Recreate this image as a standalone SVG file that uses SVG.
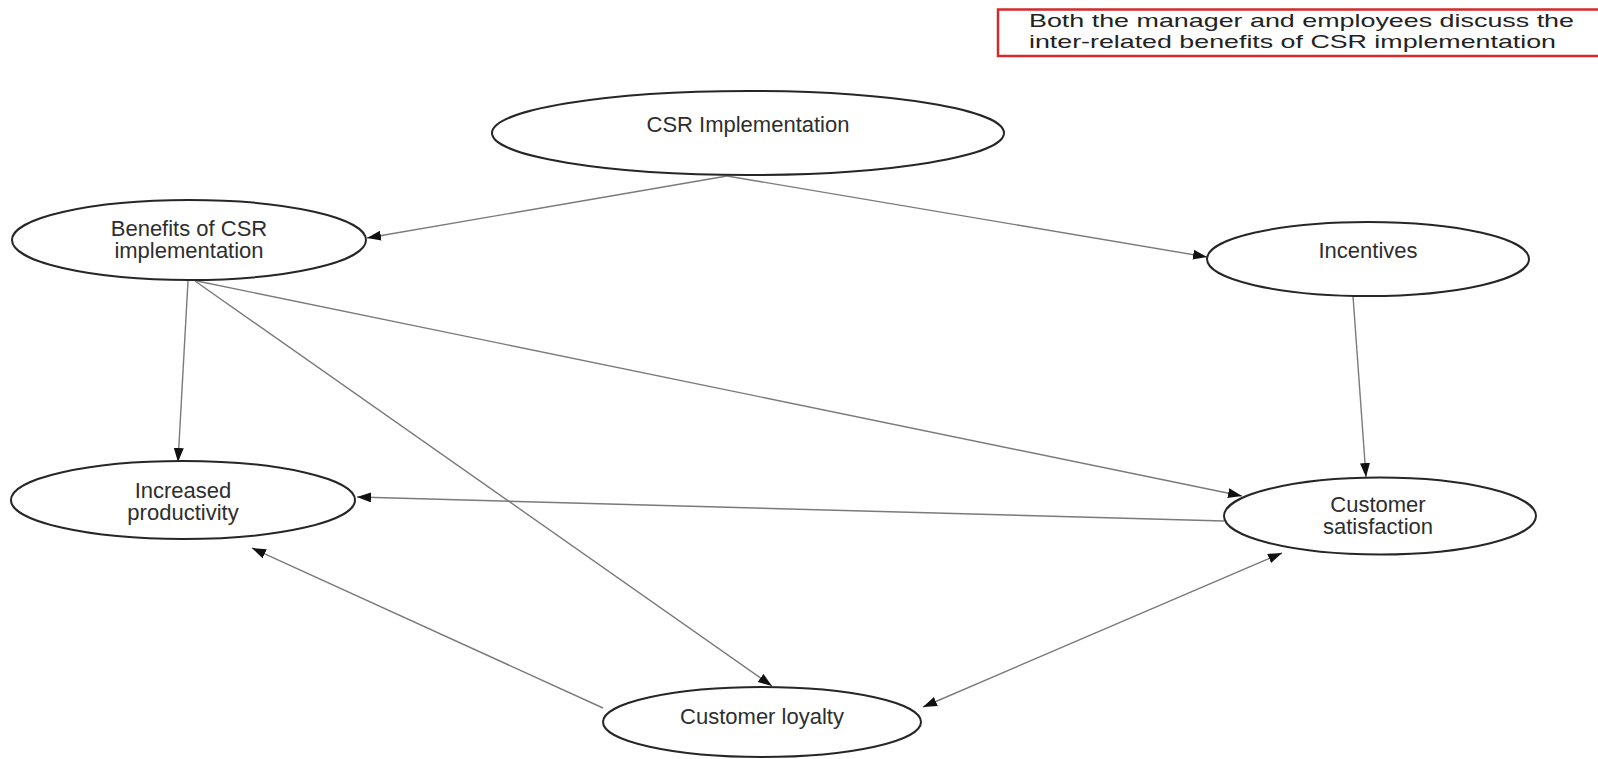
<svg xmlns="http://www.w3.org/2000/svg" width="1598" height="759" viewBox="0 0 1598 759">
  <style>
    .node ellipse { fill: #ffffff; stroke: #262626; stroke-width: 2; }
    .node text { font-family: "Liberation Sans", Arial, sans-serif; font-size: 22px; fill: #2e2e2e; text-anchor: middle; }
    .edges line { stroke: #7a7a7a; stroke-width: 1.4; fill: none; }
    .note text { font-family: "Liberation Sans", Arial, sans-serif; font-size: 18.5px; fill: #222222; }
  </style>
  <defs>
    <marker id="arrow" markerUnits="userSpaceOnUse" markerWidth="16" markerHeight="12" refX="14" refY="5" orient="auto-start-reverse">
      <path d="M0,0 L14,5 L0,10 Z" fill="#111111"/>
    </marker>
  </defs>
  <rect width="1598" height="759" fill="#ffffff"/>

  <!-- caption box -->
  <g id="note" class="note">
    <rect x="998" y="9.5" width="610" height="46.5" fill="none" stroke="#d42a2a" stroke-width="2.5"/>
    <text x="1029" y="26.5" textLength="545" lengthAdjust="spacingAndGlyphs">Both the manager and employees discuss the</text>
    <text x="1029" y="47.5" textLength="527" lengthAdjust="spacingAndGlyphs">inter-related benefits of CSR implementation</text>
  </g>

  <!-- connectors -->
  <g id="edges" class="edges">
    <line x1="727" y1="176" x2="367" y2="238" marker-end="url(#arrow)"/>
    <line x1="727" y1="176" x2="1207" y2="257" marker-end="url(#arrow)"/>
    <line x1="188" y1="281" x2="178" y2="462" marker-end="url(#arrow)"/>
    <line x1="195" y1="281" x2="772" y2="686" marker-end="url(#arrow)"/>
    <line x1="197" y1="281" x2="1242" y2="496" marker-end="url(#arrow)"/>
    <line x1="1353" y1="296" x2="1366" y2="477" marker-end="url(#arrow)"/>
    <line x1="1224" y1="521" x2="357" y2="497" marker-end="url(#arrow)"/>
    <line x1="603" y1="708" x2="252" y2="548" marker-end="url(#arrow)"/>
    <line x1="923" y1="707" x2="1282" y2="553" marker-start="url(#arrow)" marker-end="url(#arrow)"/>
  </g>

  <!-- nodes -->
  <g id="csr-implementation" class="node">
    <ellipse cx="748" cy="133" rx="256" ry="42"/>
    <text x="748" y="132">CSR Implementation</text>
  </g>
  <g id="benefits" class="node">
    <ellipse cx="189" cy="240" rx="177" ry="40"/>
    <text x="189" y="236">Benefits of CSR</text>
    <text x="189" y="258">implementation</text>
  </g>
  <g id="incentives" class="node">
    <ellipse cx="1368" cy="259" rx="161" ry="37"/>
    <text x="1368" y="258">Incentives</text>
  </g>
  <g id="increased-productivity" class="node">
    <ellipse cx="183" cy="500" rx="172" ry="39"/>
    <text x="183" y="498">Increased</text>
    <text x="183" y="520">productivity</text>
  </g>
  <g id="customer-satisfaction" class="node">
    <ellipse cx="1380" cy="516" rx="156" ry="38.5"/>
    <text x="1378" y="512">Customer</text>
    <text x="1378" y="534">satisfaction</text>
  </g>
  <g id="customer-loyalty" class="node">
    <ellipse cx="762" cy="722" rx="159" ry="35"/>
    <text x="762" y="724">Customer loyalty</text>
  </g>
</svg>
